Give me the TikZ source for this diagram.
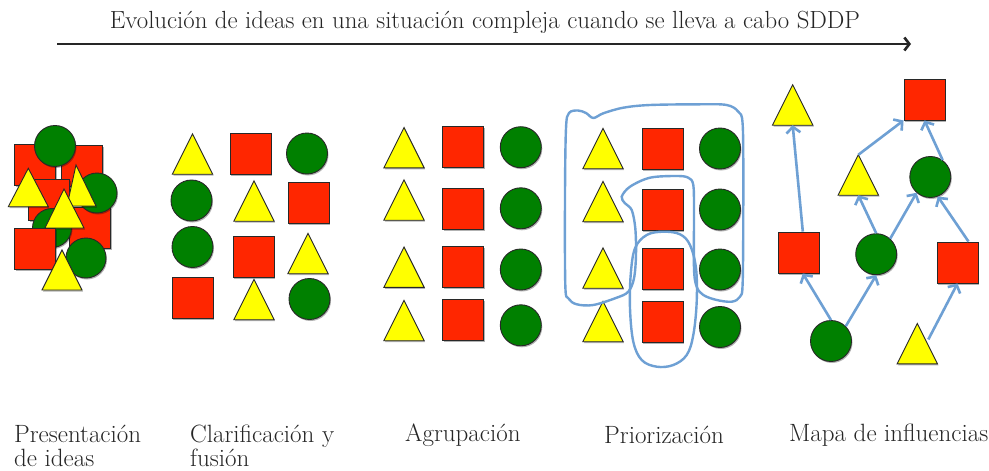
\documentclass[tikz,border=0pt]{standalone}
\usetikzlibrary{arrows.meta,shadows}
\definecolor{shred}{RGB}{255,38,0}
\definecolor{shyel}{RGB}{255,255,0}
\definecolor{shgrn}{RGB}{0,128,0}
\definecolor{lnblue}{RGB}{110,160,212}
\definecolor{edgec}{RGB}{40,40,40}
\tikzset{
 shp/.style={draw=edgec, line width=0.9pt, inner sep=0pt, drop shadow={shadow xshift=1pt, shadow yshift=-1.5pt, opacity=0.3, fill=black}},
 sqs/.style={shp, rectangle, fill=shred, minimum size=41pt},
 cis/.style={shp, circle, fill=shgrn, minimum size=41pt},
 tribox/.style={rectangle, inner sep=0pt, minimum width=40pt, minimum height=40pt},
 tris/.style={shp, fill=shyel, line join=miter},
 lab/.style={font=\fontsize{25}{30}\selectfont, anchor=base west, inner sep=0pt, text=black!85},
 flow/.style={draw=lnblue, line width=2.6pt, -{Straight Barb[length=6pt,width=14pt]}},
 grp/.style={draw=lnblue, line width=2.4pt},
}
\newcommand\mysq[3][]{\node[sqs,#1] (#2) at (#3) {};}
\newcommand\myci[3][]{\node[cis,#1] (#2) at (#3) {};}
\newcommand\mytri[3][]{\node[tribox,#1] (#2) at (#3) {};\draw[tris] (#2.south west) -- (#2.north) -- (#2.south east) -- cycle;}
\begin{document}
\begin{tikzpicture}[x=1pt,y=-1pt]
\useasboundingbox[fill=white] (0,0) rectangle (989,471);
% title and arrow
\node[font=\fontsize{24.8}{30}\selectfont, anchor=base, inner sep=0pt, text=black!85] (title) at (485,28) {Evolución de ideas en una situación compleja cuando se lleva a cabo SDDP};
\coordinate (ta) at (57,44);
\coordinate (tb) at (911,44);
\draw[line width=2.6pt, black!85, -{Straight Barb[length=5pt,width=13pt]}] (ta) -- (tb);

% cluster 1: presentacion
\mysq{a1}{35,165}
\mysq{a2}{82,165.5}
\myci{a3}{55,146}
\mysq{a4}{90,228}
\myci[minimum size=40pt]{a5}{97,193}
\mysq{a6}{49,199.5}
\myci[minimum size=39pt]{a7}{52,228}
\draw[tris] (8.3,206.7) -- (28.3,168.3) -- (48.3,206.7) -- cycle;
\draw[tris] (67,206) -- (76,165) -- (96,206) -- cycle;
\draw[tris] (45,228) -- (64,189) -- (84,228) -- cycle;
\mysq{a8}{35,248.5}
\myci[minimum size=40pt]{a9}{86,258}
\draw[tris] (42,290) -- (62,250) -- (82,290) -- cycle;

% cluster 2: clarificacion
\mytri{b1}{192.5,154}
\mysq{b2}{250.5,153.5}
\myci{b3}{307,153.5}
\myci{b4}{191.5,200.5}
\mytri{b5}{254,201}
\mysq{b6}{308.5,203}
\myci{b7}{192.5,247}
\mysq{b8}{253.5,257}
\mytri{b9}{308,253.5}
\mysq{b10}{192.5,297.5}
\mytri{b11}{254,299.5}
\myci{b12}{309.5,299}

% cluster 3: agrupacion
\mytri{c1}{404,147.7}
\mytri{c2}{404,200}
\mytri{c3}{404,267.2}
\mytri{c4}{404,320.5}
\mysq{c5}{463.3,147.2}
\mysq{c6}{463.3,208.7}
\mysq{c7}{463.3,267.2}
\mysq{c8}{463.3,319.5}
\myci{c9}{520.8,147.2}
\myci{c10}{520.8,208.3}
\myci{c11}{520.8,269.5}
\myci{c12}{520.8,325.3}

% cluster 4: priorizacion
\mytri{d1}{603,148.5}
\mytri{d2}{603,201.5}
\mytri{d3}{603,268}
\mytri{d4}{603,321.5}
\mysq{d5}{662.5,148.5}
\mysq{d6}{662.5,209.5}
\mysq{d7}{662.5,268.5}
\mysq{d8}{662.5,321.5}
\myci{d9}{720,148.5}
\myci{d10}{720,209.5}
\myci{d11}{720,269.5}
\myci{d12}{720,327}
\draw[grp] plot[smooth cycle, tension=0.55] coordinates {
 (569,113) (578,110.5) (586,113) (593.3,118) (603.3,113.3) (623.3,107.7) (650,105)
 (700,104.3) (726.7,105) (738.3,111.7) (742.7,125) (743.3,195) (742.7,281.7)
 (740,296.7) (731.7,301.7) (716.7,300) (703.3,295) (696.7,286.7) (694,268.3)
 (694,211.7) (693.3,185) (688.3,177.7) (676.7,176) (650,177.7) (630,186.7)
 (621.7,196.7) (625,203.3) (631.7,210) (635.3,228.3) (636,255) (634,278.3)
 (628.3,291.7) (616.7,297.7) (593.3,305) (576.7,304.3) (568.3,298.3)
 (565.3,285) (565,195) (566,128.3)};
\draw[grp] plot[smooth cycle, tension=0.6] coordinates {
 (663.3,231.7) (646.7,235) (635,248.3) (630.7,275) (630,308.3) (633.3,341.7)
 (641.7,360) (656.7,366.7) (673.3,365) (686.7,355) (693.3,335) (696.7,301.7)
 (696,268.3) (690,245) (680,234.3)};

% cluster 5: mapa de influencias
\mytri{eTL}{792.7,105}
\mysq{eTop}{924.5,99.5}
\mytri{eM}{858.3,175}
\myci{eMR}{930.3,177}
\mysq{eL}{798.8,252.5}
\myci{eC}{876.2,254.2}
\mysq{eR}{957.5,262.5}
\myci{eB}{831,341}
\mytri{eBt}{917.3,343.7}
\draw[flow] ([xshift=4pt]eL.north) -- (eTL.south);
\draw[flow] (eM.north) -- (eTop.south west);
\draw[flow] (eMR.54) -- (eTop.south);
\draw[flow] (eC.north) -- (eM.south);
\draw[flow] (eC.48) -- (eMR.229);
\draw[flow] ([xshift=11pt]eR.north) -- (eMR.291);
\draw[flow] (eB.north) -- ([xshift=4pt]eL.south);
\draw[flow] (eB.45) -- (eC.south);
\draw[flow] ([xshift=11pt,yshift=-16pt]eBt.north) -- (eR.south);

% labels
\node[lab] (l1) at (14,442) {Presentación};
\node[lab] (l1b) at (14,466) {de ideas};
\node[lab] (l2) at (190,442) {Clarificación y};
\node[lab] (l2b) at (190,466) {fusión};
\node[lab] (l3) at (405,441) {Agrupación};
\node[lab] (l4) at (604,443) {Priorización};
\node[lab] (l5) at (789,441) {Mapa de influencias};
\end{tikzpicture}
\end{document}
